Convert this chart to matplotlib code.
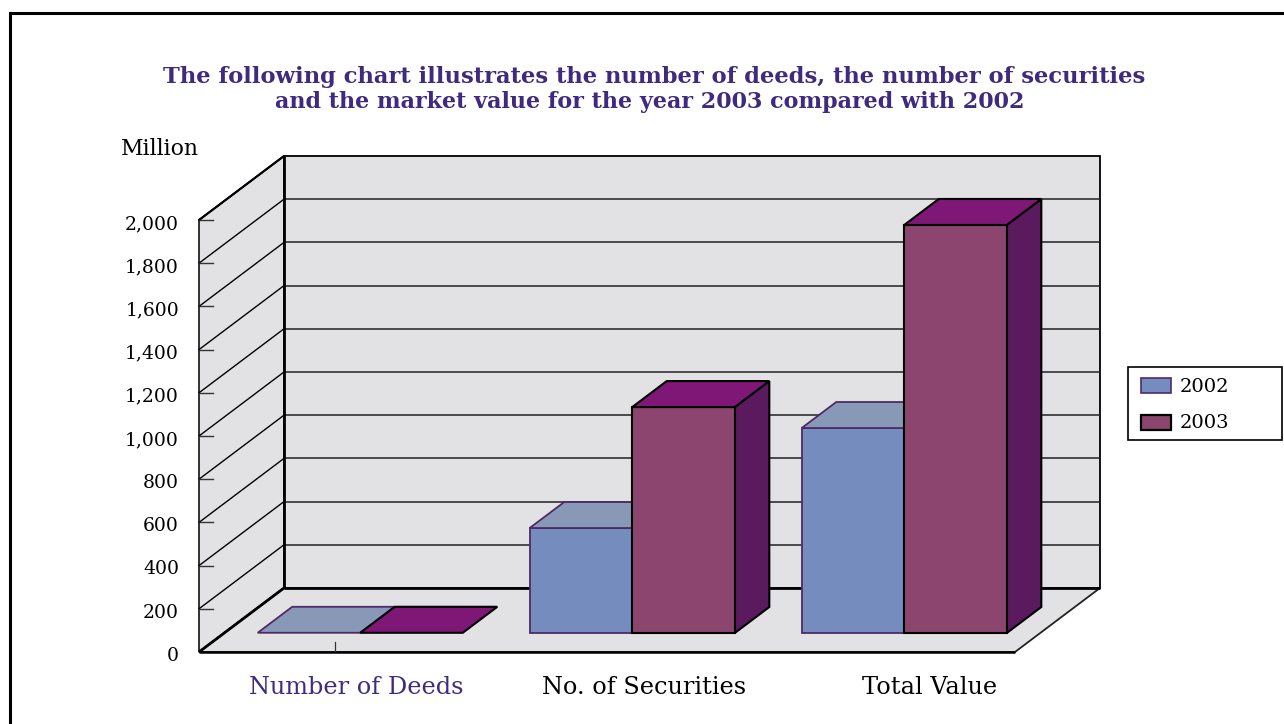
import matplotlib
matplotlib.use("Agg")
import matplotlib.pyplot as plt
from matplotlib.patches import Polygon, Rectangle

# values (million)
categories = ["Number of Deeds", "No. of Securities", "Total Value"]
years = ["2002", "2003"]
values_2002 = [1, 486, 949]
values_2003 = [1, 1046, 1889]
y_ticks = [0, 200, 400, 600, 800, 1000, 1200, 1400, 1600, 1800, 2000]

W, H = 1284, 724
FONT = "DejaVu Serif"
TITLE_COLOR = "#3f2a7d"

# 3d look: how far the back wall is shifted, in data units
DEPTH_X = 85 / 272
DEPTH_Y = 64 / 43.2 * 200
BAR_WIDTH = 0.377
BAR_DEPTH_FRONT = 19 / 64
BAR_DEPTH_BACK = 45 / 64
N = len(categories)
Y_MAX = y_ticks[-1]


def proj(x, v, d=0.0):
    return (x + d * DEPTH_X, v + d * DEPTH_Y)


def face(ax, pts, color, edge, lw=1.2, z=2):
    ax.add_patch(Polygon(pts, closed=True, facecolor=color, edgecolor=edge,
                         linewidth=lw, joinstyle="miter", zorder=z, clip_on=False))


def bar3d(ax, x0, x1, v, colors, edge, lw, z):
    d0, d1 = BAR_DEPTH_FRONT, BAR_DEPTH_BACK
    front, top, side = colors
    if v > 5:
        face(ax, [proj(x1, 0, d0), proj(x1, 0, d1), proj(x1, v, d1), proj(x1, v, d0)], side, edge, lw, z)
        face(ax, [proj(x0, 0, d0), proj(x1, 0, d0), proj(x1, v, d0), proj(x0, v, d0)], front, edge, lw, z)
    face(ax, [proj(x0, v, d0), proj(x1, v, d0), proj(x1, v, d1), proj(x0, v, d1)], top, edge, lw, z)


fig = plt.figure(figsize=(W / 100, H / 100), dpi=100)
ax = fig.add_axes([199 / W, 1 - 652 / H, 816 / W, 432 / H])
ax.set_xlim(0, N)
ax.set_ylim(0, Y_MAX)
ax.axis("off")

# outer frame, it runs off the right and bottom of the picture
fig.add_artist(Rectangle((10 / W, -0.02), 1.1, 1.02 - 13 / H, transform=fig.transFigure,
                         fill=False, edgecolor="black", linewidth=2.2))

wall = "#e2e2e4"
face(ax, [proj(0, 0, 1), proj(N, 0, 1), proj(N, Y_MAX, 1), proj(0, Y_MAX, 1)], wall, "black", 1.3, 1)
face(ax, [proj(0, 0, 0), proj(0, 0, 1), proj(0, Y_MAX, 1), proj(0, Y_MAX, 0)], wall, "#222222", 1.3, 1)
face(ax, [proj(0, 0, 0), proj(N, 0, 0), proj(N, 0, 1), proj(0, 0, 1)], wall, "#222222", 1.3, 1)

# gridlines on back and side wall
for t in y_ticks[1:-1]:
    ax.plot(*zip(proj(0, t, 1), proj(N, t, 1)), color="#222222", lw=1.1, zorder=1.5, clip_on=False)
for t in y_ticks[1:]:
    ax.plot(*zip(proj(0, t, 0), proj(0, t, 1)), color="black", lw=1.0, zorder=1.5, clip_on=False)
    ax.plot(*zip(proj(0, t, 0), proj(14 / 272, t, 0)), color="#333333", lw=1.0, zorder=1.5, clip_on=False)
for p, q, lw in [(proj(0, 0, 1), proj(0, Y_MAX, 1), 2.0), (proj(0, 0, 1), proj(N, 0, 1), 2.0),
                 (proj(0, 0, 0), proj(0, 0, 1), 2.0), (proj(0, 0, 0), proj(N, 0, 0), 1.8),
                 (proj(0, Y_MAX, 0), proj(0, Y_MAX, 1), 1.5)]:
    ax.plot(*zip(p, q), color="black", lw=lw, zorder=1.6, solid_capstyle="butt", clip_on=False)

# first category tick only, the others are not drawn in the original
ax.plot([0.5, 0.5], [0, 45], color="#333333", lw=0.9, zorder=1.6)

colors_2002 = ("#758cbf", "#8899b8", "#7a8fb8")
colors_2003 = ("#8c456e", "#7e1775", "#5c1a5e")
for i in range(N):
    c = i + 0.5
    bar3d(ax, c - BAR_WIDTH, c, values_2002[i], colors_2002, "#4f2a66", 1.3, 3 + i)
    bar3d(ax, c, c + BAR_WIDTH, values_2003[i], colors_2003, "black", 1.5, 3.5 + i)

# labels
for t in y_ticks:
    ax.text(-20 / 272, t - 18, f"{t:,}", ha="right", va="center", fontsize=13.5, family=FONT, color="black")
ax.text(0, 2330, "Million", ha="right", va="center", fontsize=15.8, family=FONT, color="black")
label_shift = [21 / 272, 37 / 272, 51 / 272]
label_color = [TITLE_COLOR, "black", "black"]
for i, name in enumerate(categories):
    ax.text(i + 0.5 + label_shift[i], -165, name, ha="center", va="center", fontsize=17.3,
            family=FONT, color=label_color[i])

fig.text(654.5 / W, 1 - 77 / H, "The following chart illustrates the number of deeds, the number of securities",
         ha="center", va="center", fontsize=16.3, fontweight="bold", family=FONT, color=TITLE_COLOR)
fig.text(650 / W, 1 - 102 / H, "and the market value for the year 2003 compared with 2002",
         ha="center", va="center", fontsize=16.05, fontweight="bold", family=FONT, color=TITLE_COLOR)

# legend box drawn by hand, matplotlib's own legend can't leave the empty right part
fig.add_artist(Rectangle((1128 / W, 1 - 440 / H), 154 / W, 73 / H, transform=fig.transFigure,
                         facecolor="white", edgecolor="black", linewidth=1.2))
legend_y = [386, 422]
legend_style = [(colors_2002[0], "#4f2a66", 1.2), (colors_2003[0], "black", 1.6)]
for year, ly, (fc, ec, lw) in zip(years, legend_y, legend_style):
    fig.add_artist(Rectangle((1141 / W, 1 - (ly + 7.5) / H), 30 / W, 15 / H, transform=fig.transFigure,
                             facecolor=fc, edgecolor=ec, linewidth=lw))
    fig.text(1180 / W, 1 - (ly + 1) / H, year, ha="left", va="center", fontsize=14, family=FONT, color="black")

fig.savefig("out.png", dpi=100)
